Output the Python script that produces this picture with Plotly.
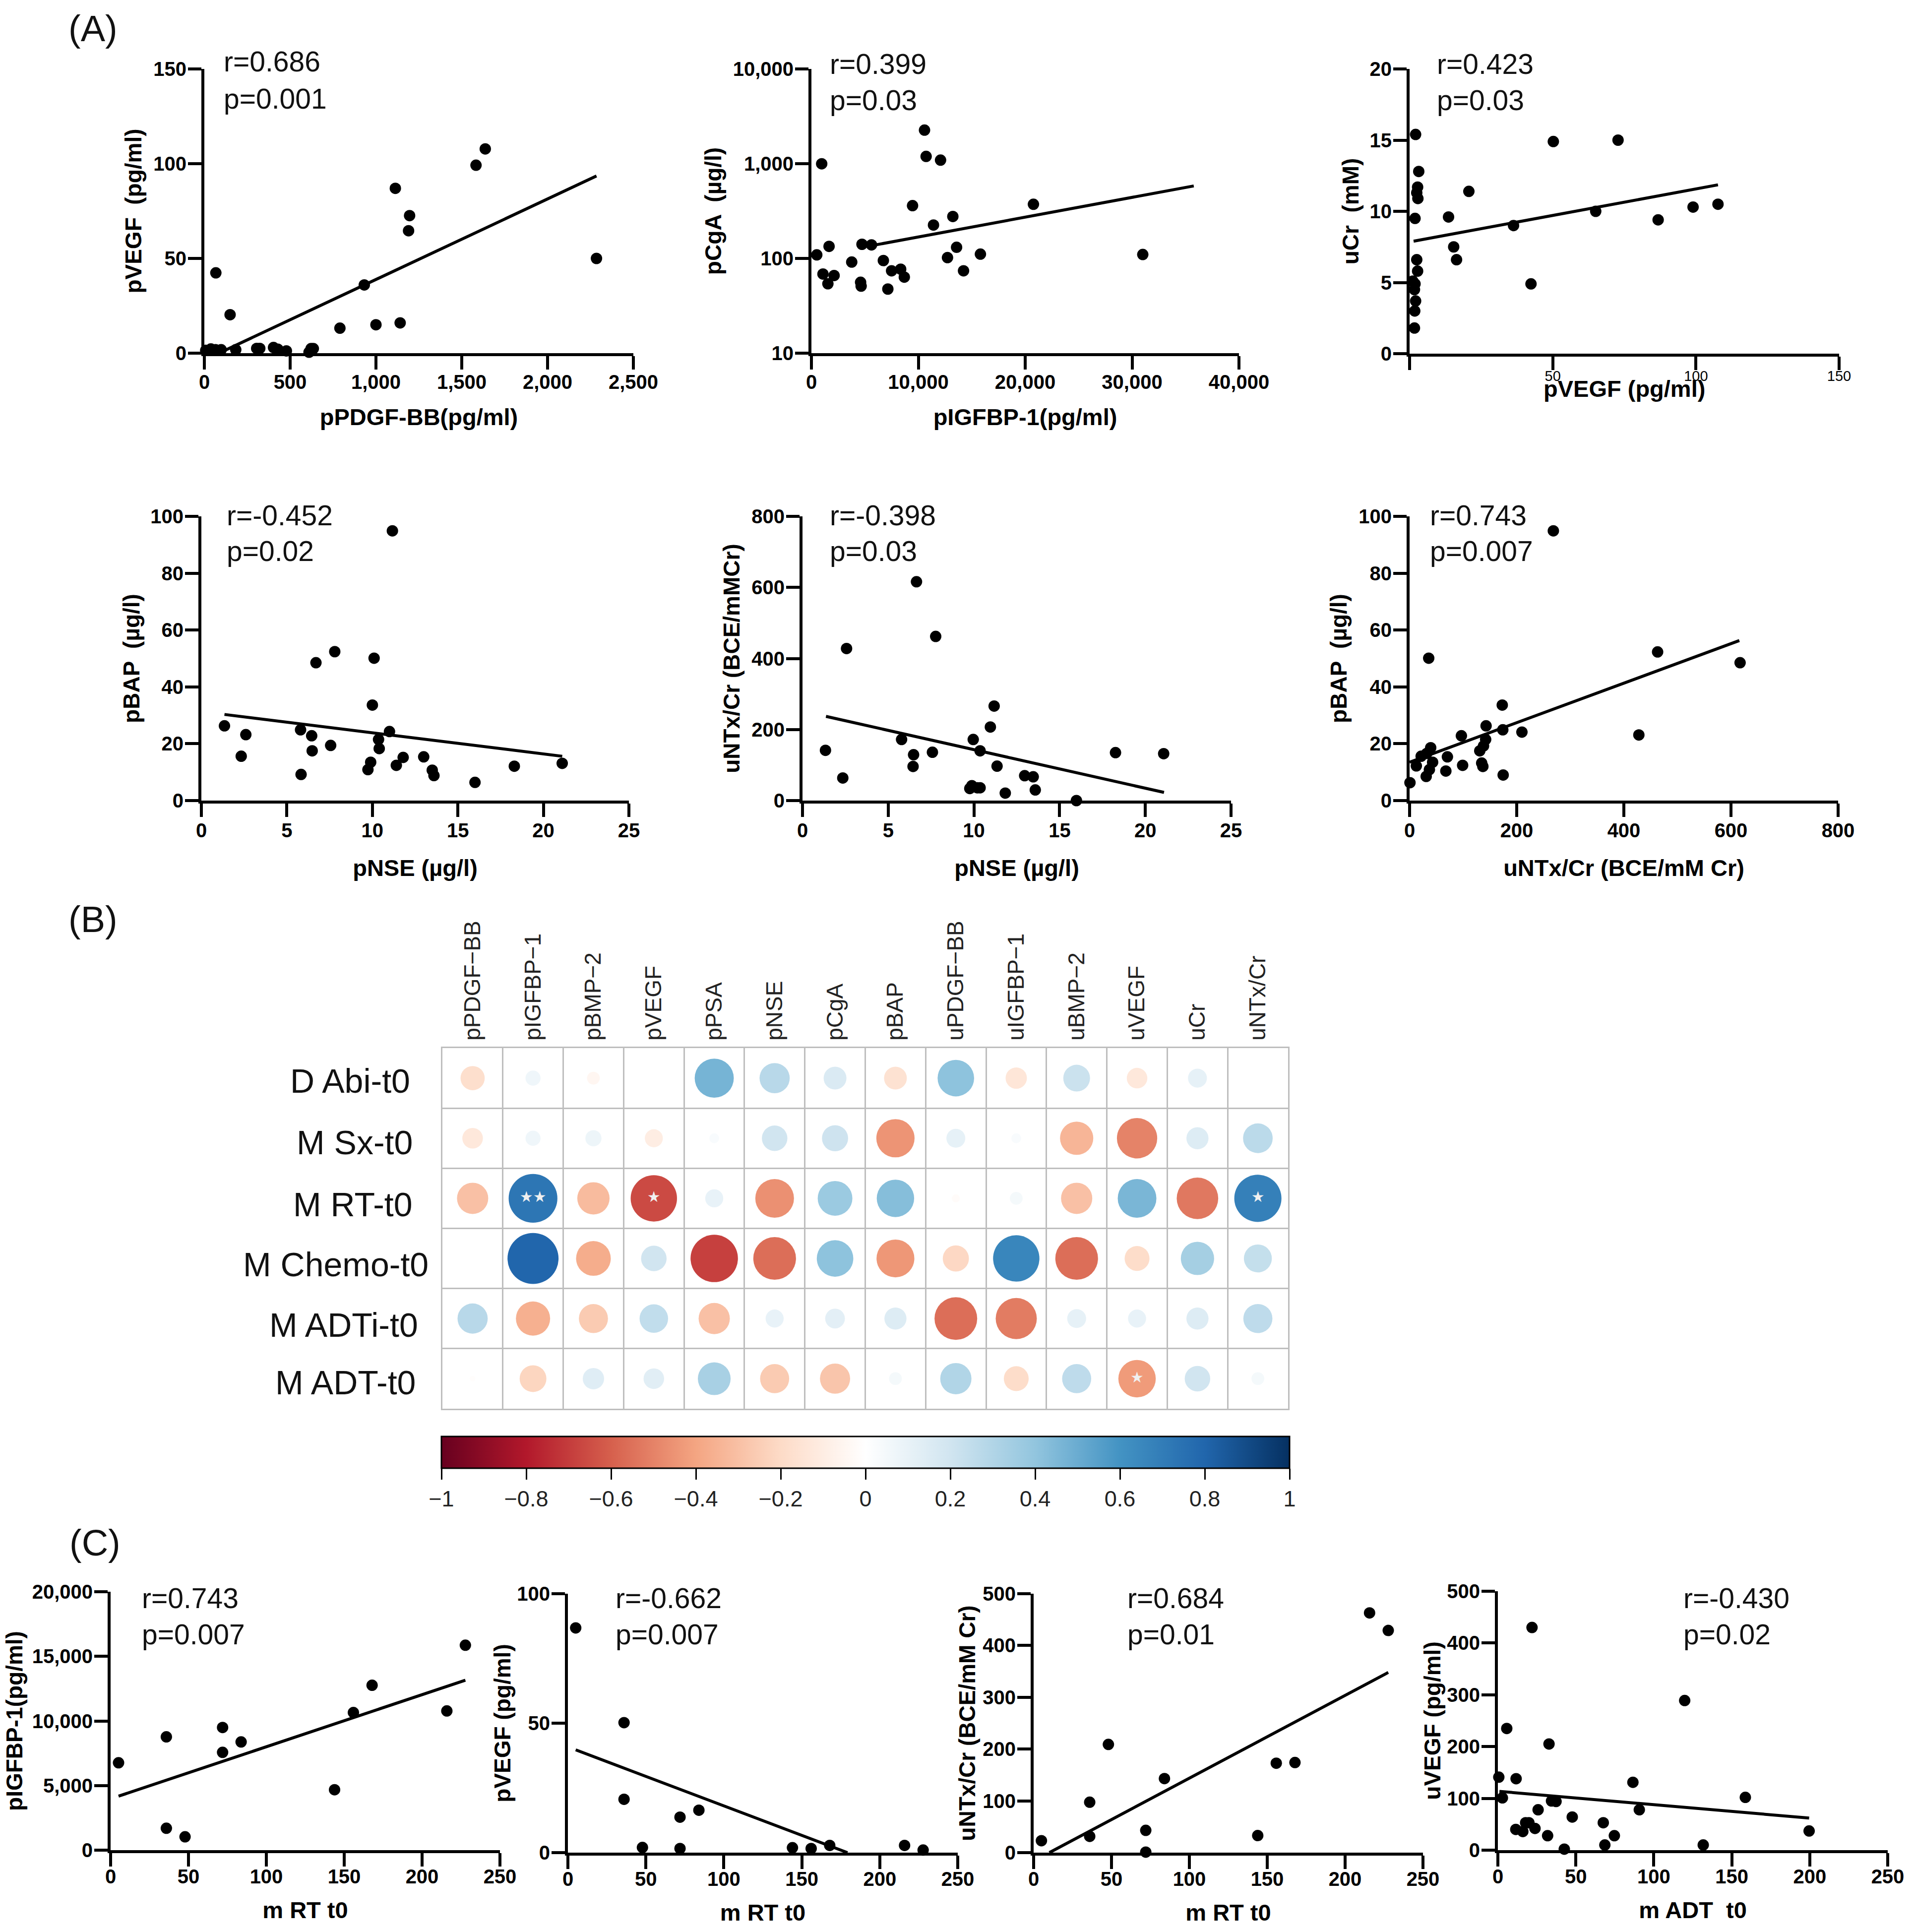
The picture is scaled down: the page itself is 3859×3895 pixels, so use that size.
import numpy as np
import plotly.graph_objects as go

W = 3859
H = 3895

# (A) dados
a1_x = [8, 38, 65, 98, 183, 305, 323, 403, 428, 478, 610, 622, 635, 67, 150, 932, 790, 1000, 1141, 1113, 1196, 1190, 1583, 1637, 2285]
a1_y = [1.5, 2.2, 1.8, 1.8, 1.8, 2.5, 2.5, 3, 2.1, 1.2, 0.5, 2.4, 2.4, 42.4, 20.3, 36, 13.2, 15, 16, 87, 72.6, 64.6, 99.2, 107.8, 50]
a1_fit_x = [90, 2285]
a1_fit_y = [0.2, 93.5]

a2_x = [500, 960, 1650, 1080, 1540, 2120, 3770, 4600, 4650, 4730, 5620, 6730, 7150, 7500, 8350, 8690, 9460, 10580, 10730, 12080, 11420, 13230, 12730, 13580, 14230, 15810, 20770, 31000]
a2_y = [109, 998, 134, 68.5, 54, 66, 91.6, 56, 51, 141, 139, 95, 47.5, 74, 77, 63.5, 361, 2260, 1194, 1091, 225, 277, 102, 131, 74, 111, 373, 110]
a2_fit_x = [5700, 35770]
a2_fit_y = [137, 582]

a3_x = [2.1, 3.2, 2.8, 2.5, 2.9, 1.9, 13.6, 20.7, 36.3, 42.4, 50.2, 72.8, 65, 86.8, 99, 107.7, 15.4, 16.4, 2.5, 2.8, 1.1, 1.9, 1.7, 2.1, 1.8, 1.7]
a3_y = [15.4, 12.8, 11.7, 11.3, 10.9, 9.5, 9.6, 11.4, 9.0, 4.9, 14.9, 15.0, 10, 9.4, 10.3, 10.5, 7.5, 6.6, 6.6, 5.8, 5.1, 4.9, 4.5, 3.7, 3.0, 1.8]
a3_fit_x = [1.4, 107.7]
a3_fit_y = [7.9, 11.86]

a4_x = [1.35, 2.33, 2.6, 5.8, 5.83, 6.45, 6.48, 6.7, 7.56, 7.8, 9.74, 9.9, 10, 10.1, 10.4, 10.36, 11, 11.17, 11.4, 11.8, 13, 13.5, 13.6, 16, 18.3, 21.1]
a4_y = [26.3, 15.6, 23.2, 24.9, 9.2, 22.8, 17.5, 48.5, 19.4, 52.4, 10.9, 13.5, 33.6, 50.1, 18.3, 21.5, 24.3, 94.9, 12.4, 15.2, 15.4, 10.7, 8.8, 6.4, 12.1, 13.1]
a4_fit_x = [1.35, 21.1]
a4_fit_y = [30.3, 15.6]

a5_x = [1.34, 2.35, 2.57, 5.78, 6.48, 6.45, 6.65, 7.58, 7.77, 9.76, 9.88, 9.96, 10.2, 10.36, 10.36, 10.96, 11.18, 11.35, 11.83, 12.96, 13.46, 13.58, 15.98, 18.26, 21.07]
a5_y = [141.5, 63.6, 428, 172, 129, 96, 616, 136, 462, 34, 42, 172, 36, 36, 140, 207, 266, 97, 21, 70, 67, 30, 0, 135, 132]
a5_fit_x = [1.37, 21.09]
a5_fit_y = [237, 23]

a6_x = [0.7, 12.6, 21.6, 31, 35.7, 37, 39.4, 43, 32, 67.7, 70.6, 96.7, 99, 131, 134.6, 136.8, 138, 142, 142.8, 173, 174, 174.7, 209.7, 268.4, 428, 463, 617]
a6_y = [6.3, 12.2, 15.6, 8.5, 50.1, 10.9, 18.6, 13.5, 16.6, 10.4, 15.4, 22.8, 12.4, 17.5, 13.2, 12, 19.2, 21.5, 26.3, 33.6, 24.9, 9, 24.1, 94.9, 23.1, 52.3, 48.5]
a6_fit_x = [0, 615.6]
a6_fit_y = [13.5, 56.3]

# (B) matriz de correlacao
colunas = ['pPDGF−BB', 'pIGFBP−1', 'pBMP−2', 'pVEGF', 'pPSA', 'pNSE', 'pCgA', 'pBAP',
           'uPDGF−BB', 'uIGFBP−1', 'uBMP−2', 'uVEGF', 'uCr', 'uNTx/Cr']
linhas = ['D Abi-t0', 'M Sx-t0', 'M RT-t0', 'M Chemo-t0', 'M ADTi-t0', 'M ADT-t0']
d_abi = [-0.18, 0.07, -0.05, None, 0.47, 0.28, 0.16, -0.16, 0.41, -0.14, 0.22, -0.13, 0.11, None]
m_sx = [-0.13, 0.07, 0.08, -0.10, 0.03, 0.20, 0.21, -0.45, 0.11, 0.03, -0.34, -0.50, 0.15, 0.27]
m_rt = [-0.30, 0.73, -0.32, -0.66, 0.10, -0.46, 0.37, 0.43, -0.02, 0.05, -0.30, 0.46, -0.53, 0.684]
m_chemo = [None, 0.80, -0.37, 0.20, -0.69, -0.56, 0.41, -0.44, -0.21, 0.66, -0.56, -0.19, 0.34, 0.24]
m_adti = [0.28, -0.36, -0.26, 0.25, -0.30, 0.10, 0.12, 0.15, -0.56, -0.52, 0.11, 0.10, 0.15, 0.26]
m_adt = [-0.01, -0.22, 0.14, 0.13, 0.33, -0.26, -0.28, 0.05, 0.30, -0.19, 0.26, -0.43, 0.20, 0.05]
matriz = [d_abi, m_sx, m_rt, m_chemo, m_adti, m_adt]
# celulas com asterisco: (linha, coluna, texto)
estrelas = [(2, 1, '★★'), (2, 3, '★'), (2, 13, '★'), (5, 11, '★')]
cbar_ticks = [-1, -0.8, -0.6, -0.4, -0.2, 0, 0.2, 0.4, 0.6, 0.8, 1]
cbar_labels = ['−1', '−0.8', '−0.6', '−0.4', '−0.2', '0', '0.2', '0.4', '0.6', '0.8', '1']

# (C)
c1_x = [5.1, 35.8, 35.8, 47.8, 71.9, 71.9, 83.8, 143.8, 155.9, 167.9, 215.9, 227.8]
c1_y = [6763, 8770, 1696, 1034, 9493, 7570, 8376, 4674, 10650, 12760, 10775, 15860]
c1_fit_x = [5.1, 227.8]
c1_fit_y = [4178, 13154]

c2_x = [5, 36, 36, 47.8, 71.9, 71.9, 84, 144, 156, 167.9, 215.9, 227.8]
c2_y = [86.8, 50.2, 20.6, 2.0, 13.7, 1.6, 16.4, 1.9, 1.6, 2.8, 2.8, 1.0]
c2_fit_x = [5, 179.3]
c2_fit_y = [39.7, 0]

c3_x = [5, 36, 36, 48, 72, 72, 84, 143.9, 155.8, 167.8, 215.7, 227.7]
c3_y = [23, 97.4, 31.4, 209, 43, 1, 143, 33, 172.7, 174, 463, 429]
c3_fit_x = [10.1, 227.7]
c3_fit_y = [0, 348]

c4_x = [0.6, 2.9, 5.7, 11.7, 11.5, 16, 17.8, 19.9, 21.9, 23.8, 25.8, 31.9, 32.8, 34.4, 37.3, 42.6, 47.7, 67.6, 68.6, 74.7, 86.6, 90.7, 119.8, 131.7, 158.7, 199.6]
c4_y = [141, 101, 235, 138, 40, 36, 53, 53, 430, 42, 78, 28, 205, 95, 94, 2, 64, 53, 10, 28, 131, 78, 289, 10, 102, 37]
c4_fit_x = [1, 199.6]
c4_fit_y = [113.5, 62]

FONTE = 'Liberation Sans'
RDBU = ['#67001F', '#B2182B', '#D6604D', '#F4A582', '#FDDBC7', '#FFFFFF',
        '#D1E5F0', '#92C5DE', '#4393C3', '#2166AC', '#053061']
escala = [[i / 10, c] for i, c in enumerate(RDBU)]


def px_x(v):
    return v / W


def px_y(v):
    return 1 - v / H


fig = go.Figure()
anot = []


def painel(n, x, y, fx, fy, caixa, xr, yr, xt, yt, xtitle, ytitle, r, p, tx, ty1, ty2,
           xtext=None, xsize=40, xbold=True, xstand=35, ystand=11, xoff=-9, log=False, xtitle_y=None):
    nome_x = 'x' if n == 1 else f'x{n}'
    nome_y = 'y' if n == 1 else f'y{n}'
    fig.add_trace(go.Scatter(x=x, y=y, mode='markers', xaxis=nome_x, yaxis=nome_y,
                             marker=dict(color='black', size=23), cliponaxis=False, showlegend=False))
    fig.add_trace(go.Scatter(x=fx, y=fy, mode='lines', xaxis=nome_x, yaxis=nome_y,
                             line=dict(color='black', width=6), cliponaxis=False, showlegend=False))
    x0, x1, y0, y1 = caixa
    eixo_x = dict(domain=[px_x(x0), px_x(x1)], anchor=nome_y, range=xr, tickvals=xt,
                  ticktext=xtext if xtext else [f'{v:,}' for v in xt],
                  ticks='outside', ticklen=27, tickwidth=6, tickcolor='black',
                  showline=True, linewidth=6, linecolor='black', showgrid=False, zeroline=False,
                  ticklabelstandoff=xoff,
                  tickfont=dict(family=FONTE, size=xsize, color='black', weight='bold' if xbold else 'normal'))
    if xtitle_y is None:
        eixo_x['title'] = dict(text=f'<b>{xtitle}</b>', standoff=xstand, font=dict(family=FONTE, size=47, color='black'))
    else:
        # o titulo deste painel fica encostado nos ticks, como no original
        anot.append(dict(text=f'<b>{xtitle}</b>', xref='paper', yref='paper', x=px_x((x0 + x1) / 2), y=px_y(xtitle_y),
                         xanchor='center', yanchor='middle', showarrow=False,
                         font=dict(family=FONTE, size=47, color='black')))
    eixo_y = dict(domain=[px_y(y1), px_y(y0)], anchor=nome_x, range=yr, tickvals=yt,
                  ticks='outside', ticklen=27, tickwidth=6, tickcolor='black',
                  showline=True, linewidth=6, linecolor='black', showgrid=False, zeroline=False,
                  ticklabelstandoff=-5,
                  tickfont=dict(family=FONTE, size=40, color='black', weight='bold'),
                  title=dict(text=f'<b>{ytitle}</b>', standoff=ystand, font=dict(family=FONTE, size=46, color='black')))
    if log:
        eixo_y['type'] = 'log'
    eixo_y['ticktext'] = [f'{v:,}' for v in yt]
    fig.layout['xaxis' if n == 1 else f'xaxis{n}'] = eixo_x
    fig.layout['yaxis' if n == 1 else f'yaxis{n}'] = eixo_y
    for texto, ty in ((r, ty1), (p, ty2)):
        anot.append(dict(text=texto, xref='paper', yref='paper', x=px_x(tx), y=px_y(ty), xanchor='left',
                         yanchor='middle', showarrow=False, font=dict(family=FONTE, size=57, color='#111111')))


painel(1, a1_x, a1_y, a1_fit_x, a1_fit_y, (412, 1277, 139, 712), [0, 2500], [0, 150],
       [0, 500, 1000, 1500, 2000, 2500], [0, 50, 100, 150], 'pPDGF-BB(pg/ml)', 'pVEGF  (pg/ml)',
       'r=0.686', 'p=0.001', 449, 124, 199)
painel(2, a2_x, a2_y, a2_fit_x, a2_fit_y, (1636, 2498, 139, 712), [0, 40000], [1, 4],
       [0, 10000, 20000, 30000, 40000], [10, 100, 1000, 10000], 'pIGFBP-1(pg/ml)', 'pCgA  (µg/l)',
       'r=0.399', 'p=0.03', 1671, 129, 202, log=True)
painel(3, a3_x, a3_y, a3_fit_x, a3_fit_y, (2842, 3708, 139, 713), [0, 150], [0, 20],
       [0, 50, 100, 150], [0, 5, 10, 15, 20], 'pVEGF (pg/ml)', 'uCr  (mM)',
       'r=0.423', 'p=0.03', 2895, 129, 202, xtext=['', '50', '100', '150'], xsize=29, xbold=False,
       xoff=-13, ystand=9, xtitle_y=783)
painel(4, a4_x, a4_y, a4_fit_x, a4_fit_y, (406, 1268, 1041, 1614), [0, 25], [0, 100],
       [0, 5, 10, 15, 20, 25], [0, 20, 40, 60, 80, 100], 'pNSE (µg/l)', 'pBAP  (µg/l)',
       'r=-0.452', 'p=0.02', 455, 1039, 1111, xstand=40, xoff=-7, ystand=9)
painel(5, a5_x, a5_y, a5_fit_x, a5_fit_y, (1618, 2482, 1041, 1614), [0, 25], [0, 800],
       [0, 5, 10, 15, 20, 25], [0, 200, 400, 600, 800], 'pNSE (µg/l)', 'uNTx/Cr (BCE/mMCr)',
       'r=-0.398', 'p=0.03', 1671, 1039, 1111, xstand=40, xoff=-7)
painel(6, a6_x, a6_y, a6_fit_x, a6_fit_y, (2842, 3706, 1041, 1614), [0, 800], [0, 100],
       [0, 200, 400, 600, 800], [0, 20, 40, 60, 80, 100], 'uNTx/Cr (BCE/mM Cr)', 'pBAP  (µg/l)',
       'r=0.743', 'p=0.007', 2881, 1039, 1111, xstand=40, xoff=-7)
painel(7, c1_x, c1_y, c1_fit_x, c1_fit_y, (223, 1008, 3209, 3730), [0, 250], [0, 20000],
       [0, 50, 100, 150, 200, 250], [0, 5000, 10000, 15000, 20000], 'm RT t0', 'pIGFBP-1(pg/ml)',
       'r=0.743', 'p=0.007', 284, 3222, 3295, xstand=32, xoff=-14, ystand=7)
painel(8, c2_x, c2_y, c2_fit_x, c2_fit_y, (1145, 1931, 3213, 3735), [0, 250], [0, 100],
       [0, 50, 100, 150, 200, 250], [0, 50, 100], 'm RT t0', 'pVEGF (pg/ml)',
       'r=-0.662', 'p=0.007', 1239, 3222, 3295, xstand=32, xoff=-14, ystand=0)
painel(9, c3_x, c3_y, c3_fit_x, c3_fit_y, (2084, 2869, 3213, 3735), [0, 250], [0, 500],
       [0, 50, 100, 150, 200, 250], [0, 100, 200, 300, 400, 500], 'm RT t0', 'uNTx/Cr (BCE/mM Cr)',
       'r=0.684', 'p=0.01', 2271, 3222, 3295, xstand=32, xoff=-14, ystand=2)
painel(10, c4_x, c4_y, c4_fit_x, c4_fit_y, (3020, 3806, 3208, 3730), [0, 250], [0, 500],
       [0, 50, 100, 150, 200, 250], [0, 100, 200, 300, 400, 500], 'm ADT  t0', 'uVEGF (pg/ml)',
       'r=-0.430', 'p=0.02', 3392, 3222, 3295, xstand=32, xoff=-14, ystand=0)

# matriz de bolinhas
cx, cy, cv = [], [], []
for i, linha in enumerate(matriz):
    for j, v in enumerate(linha):
        if v is not None:
            cx.append(j + 0.5)
            cy.append(i + 0.5)
            cv.append(v)
fig.add_trace(go.Scatter(
    x=cx, y=cy, mode='markers', xaxis='x11', yaxis='y11', showlegend=False,
    marker=dict(size=115 * np.sqrt(np.abs(cv)), color=cv, cmin=-1, cmax=1, colorscale=escala,
                opacity=1, line=dict(width=0),
                colorbar=dict(orientation='h', x=px_x(890), xanchor='left', y=px_y(2896), yanchor='top',
                              lenmode='pixels', len=1710, thicknessmode='pixels', thickness=64,
                              xpad=0, ypad=0, outlinewidth=3, outlinecolor='black',
                              tickvals=cbar_ticks, ticktext=cbar_labels, ticks='outside', ticklen=22,
                              tickwidth=3, tickcolor='black',
                              tickfont=dict(family=FONTE, size=45, color='#222222')))))
fig.add_trace(go.Scatter(
    x=[e[1] + 0.5 for e in estrelas], y=[e[0] + 0.5 for e in estrelas], text=[e[2] for e in estrelas],
    mode='text', xaxis='x11', yaxis='y11', showlegend=False,
    textposition='middle center', textfont=dict(family='DejaVu Sans', size=30, color='#F0F0F0')))

cinza = '#BEBEBE'
fig.update_layout(
    xaxis11=dict(domain=[px_x(892), px_x(2597)], anchor='y11', side='top', range=[0, 14],
                 tickvals=[j + 0.5 for j in range(14)], ticktext=colunas, tickangle=-90, ticks='',
                 showgrid=False, zeroline=False, showline=True, mirror=True, linecolor=cinza, linewidth=3,
                 minor=dict(tickmode='array', tickvals=list(range(15)), showgrid=True, gridcolor=cinza, gridwidth=3, ticks=''),
                 ticklabelstandoff=3,
                 tickfont=dict(family=FONTE, size=46, color='#222222')),
    yaxis11=dict(domain=[px_y(2840), px_y(2113)], anchor='x11', range=[6, 0], showticklabels=False,
                 ticks='', showgrid=False, zeroline=False, showline=True, mirror=True, linecolor=cinza, linewidth=3,
                 minor=dict(tickmode='array', tickvals=list(range(7)), showgrid=True, gridcolor=cinza, gridwidth=3, ticks='')),
)

# rotulos das linhas da matriz
linha_dir = [829, 834, 834, 866, 845, 840]
linha_y = [2179, 2303, 2428, 2549, 2671, 2787]
for nome, xd, yc in zip(linhas, linha_dir, linha_y):
    anot.append(dict(text=nome, xref='paper', yref='paper', x=px_x(xd), y=px_y(yc), xanchor='right',
                     yanchor='middle', showarrow=False, font=dict(family=FONTE, size=68, color='#111111')))

# letras dos paineis
for letra, xl, yl in (('(A)', 136, 58), ('(B)', 136, 1853), ('(C)', 138, 3110)):
    anot.append(dict(text=letra, xref='paper', yref='paper', x=px_x(xl), y=px_y(yl), xanchor='left',
                     yanchor='middle', showarrow=False, font=dict(family=FONTE, size=74, color='#111111')))

fig.update_layout(width=W, height=H, margin=dict(l=0, r=0, t=0, b=0, autoexpand=False), paper_bgcolor='white',
                  plot_bgcolor='white', showlegend=False, annotations=anot)

fig.write_html("out.html", config=dict(displayModeBar=False), post_script="document.body.style.margin='0';")
